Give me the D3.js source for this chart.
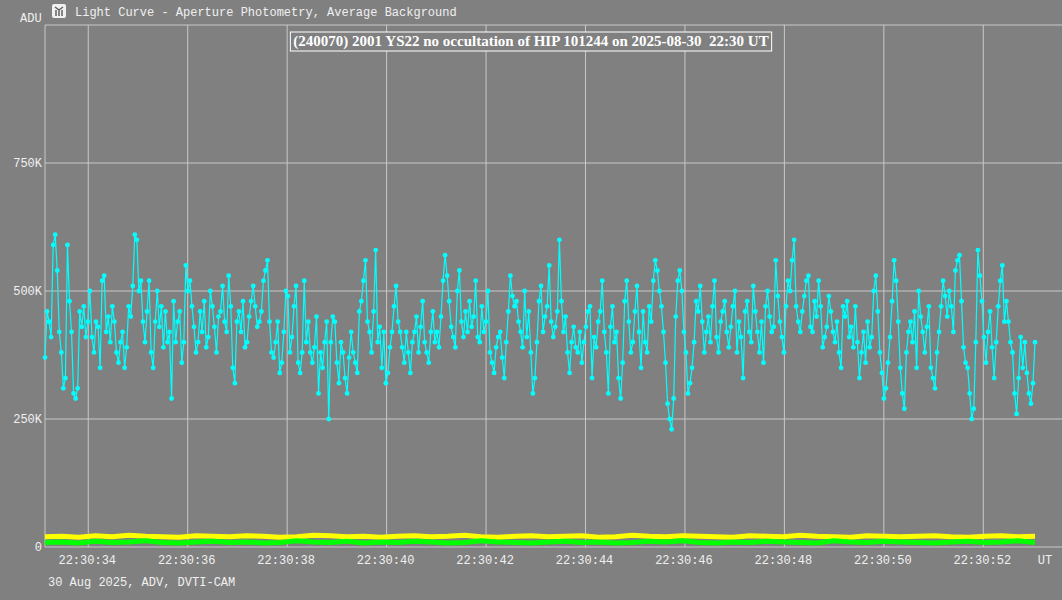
<!DOCTYPE html><html><head><meta charset="utf-8">
<script src="https://cdn.jsdelivr.net/npm/d3@7"></script>
<style>body{margin:0;background:#808080}svg{display:block}</style></head><body>
<svg id="c" width="1062" height="600"></svg>
<script>
const targetK = [370,460,440,410,590,610,540,420,380,310,330,
590,480,420,300,290,310,460,430,470,410,440,500,410,380,440,430,350,520,530,420,450,400,470,440,380,
360,400,420,350,390,470,450,510,610,600,500,520,440,400,460,520,380,350,440,500,430,470,390,460,400,
420,290,480,400,440,460,360,400,550,500,520,470,430,380,400,460,420,480,390,410,500,470,430,380,450,
460,510,440,420,530,470,350,320,440,460,420,480,390,400,450,480,510,470,430,440,460,520,540,560,440,
380,370,400,440,340,360,420,500,490,380,410,470,510,360,340,380,520,400,440,380,360,390,450,300,380,
350,400,440,250,400,450,440,360,320,400,380,330,300,370,420,380,360,340,460,480,520,560,440,420,380,
460,580,400,430,350,420,320,340,390,420,470,510,440,420,390,360,420,380,340,400,420,450,380,430,480,
400,380,360,420,460,400,420,390,450,520,570,530,480,430,410,390,500,540,440,410,460,420,480,430,450,
520,410,400,470,420,440,500,380,360,340,390,410,420,370,330,400,460,530,490,470,480,440,420,390,500,
410,460,380,300,330,400,480,510,420,450,470,550,440,410,430,460,600,480,420,450,380,340,400,430,390,
380,420,360,400,430,460,470,330,410,390,440,460,520,420,380,300,430,470,400,420,330,290,360,480,520,
440,380,400,460,510,420,350,460,400,380,470,440,520,560,540,500,470,420,360,280,250,230,290,450,520,
540,500,420,380,300,320,350,400,480,460,510,440,380,420,450,400,470,520,410,380,440,460,480,420,390,
430,470,500,380,440,410,330,460,480,420,400,510,460,420,380,440,360,470,500,450,420,430,560,490,440,
410,380,470,520,500,560,600,470,440,420,460,490,520,530,430,420,480,450,520,470,390,410,430,490,460,
420,400,440,380,350,470,450,480,410,430,390,470,400,330,380,420,360,440,390,410,500,530,460,380,340,
290,310,360,410,480,560,520,440,350,300,270,380,420,440,400,460,350,500,450,420,380,430,470,350,330,
310,380,420,470,520,490,450,500,470,420,540,560,570,480,390,360,350,300,250,270,400,580,530,480,410,
360,420,460,390,330,400,470,520,550,440,480,440,400,380,300,260,330,410,350,400,340,300,280,320,400];
const bgYellowK = [20,21,19,22,20,23,21,20,19,22,21,20,22,21,19,20,23,22,20,21,19,21,22,20,21,23,20,19,21,22,20,21,22,19,20,23,21,20,22,21,20,19,22,21,20,23,21,20,19,22,21,20,21,22,20,19,21,22,20,21];
const bgGreenK = [9,10,8,11,9,10,12,9,8,10,11,9,10,8,9,12,10,9,11,8,10,9,11,10,8,9,12,10,9,8,10,11,9,10,8,9,11,10,12,9,8,10,9,11,10,9,8,12,10,9,11,10,9,8,10,11,9,10,12,9];
const yTicks = [0,250000,500000,750000];
const xTickSeconds = [34,36,38,40,42,44,46,48,50,52];
const tStart = 33.13, tEnd = 53.04;

const svg = d3.select("#c");
const L=45,R=1035,T=25,B=547;
const x = d3.scaleLinear().domain([tStart,tEnd]).range([L,R]);
const y = d3.scaleLinear().domain([0,1000000]).range([B,35]);
const font="'Liberation Mono','DejaVu Sans Mono',monospace";
const grid="#c8c8c8";
xTickSeconds.forEach(s=>svg.append("line").attr("x1",x(s)).attr("x2",x(s)).attr("y1",T).attr("y2",B).attr("stroke",grid));
yTicks.forEach(v=>svg.append("line").attr("x1",L).attr("x2",R+27).attr("y1",y(v)).attr("y2",y(v)).attr("stroke",grid));
svg.append("line").attr("x1",L).attr("x2",R+27).attr("y1",T).attr("y2",T).attr("stroke",grid);
svg.append("line").attr("x1",L).attr("x2",L).attr("y1",T).attr("y2",B).attr("stroke",grid);
yTicks.forEach(v=>svg.append("text").attr("x",42).attr("y",y(v)+4).attr("text-anchor","end").attr("fill","#f0f0f0").attr("font-family",font).attr("font-size",12).text(v===0?"0":(v/1000)+"K"));
svg.append("text").attr("x",20).attr("y",22).attr("fill","#f0f0f0").attr("font-family",font).attr("font-size",12).text("ADU");
xTickSeconds.forEach(s=>svg.append("text").attr("x",x(s)-1).attr("y",564).attr("text-anchor","middle").attr("fill","#f0f0f0").attr("font-family",font).attr("font-size",12).text("22:30:"+s));
svg.append("text").attr("x",1045).attr("y",564).attr("text-anchor","middle").attr("fill","#f0f0f0").attr("font-family",font).attr("font-size",12).text("UT");
svg.append("text").attr("x",48).attr("y",586).attr("fill","#f0f0f0").attr("font-family",font).attr("font-size",12).text("30 Aug 2025, ADV, DVTI-CAM");
svg.append("rect").attr("x",52).attr("y",4).attr("width",14).attr("height",14).attr("rx",2).attr("fill","#f0f0f0");
svg.append("path").attr("d","M55,7 L59,10 L59,16 M63,7 L59,10 M56,10 L56,16 M62,10 L62,16").attr("stroke","#606060").attr("stroke-width",1.5).attr("fill","none");
svg.append("text").attr("x",75).attr("y",16).attr("fill","#f0f0f0").attr("font-family",font).attr("font-size",12).text("Light Curve - Aperture Photometry, Average Background");
function series(arr,color,w){
  const tt=arr.map((v,i)=>tStart+(tEnd-tStart)*i/(arr.length-1));
  const line=d3.line().x((d,i)=>x(tt[i])).y(d=>y(d*1000));
  svg.append("path").attr("d",line(arr)).attr("fill","none").attr("stroke",color).attr("stroke-width",w);
  return tt;
}
series(bgYellowK,"#ffff00",5);
series(bgGreenK,"#00ff00",5);
const tt=series(targetK,"#00ffff",1.2);
svg.append("g").selectAll("circle").data(targetK).join("circle").attr("cx",(d,i)=>x(tt[i])).attr("cy",d=>y(d*1000)).attr("r",2.4).attr("fill","#00ffff");
const title="(240070) 2001 YS22 no occultation of HIP 101244 on 2025-08-30  22:30 UT";
const tx=svg.append("text").attr("x",531).attr("y",46).attr("text-anchor","middle").attr("fill","#ffffff").attr("font-family","'Liberation Serif',serif").attr("font-weight","bold").attr("font-size",15).style("white-space","pre").text(title);
const bb=tx.node().getBBox();
svg.insert("rect","text:last-child").attr("x",bb.x-3).attr("y",bb.y-1).attr("width",bb.width+6).attr("height",bb.height+2).attr("fill","#808080").attr("stroke","#ffffff");
</script></body></html>
